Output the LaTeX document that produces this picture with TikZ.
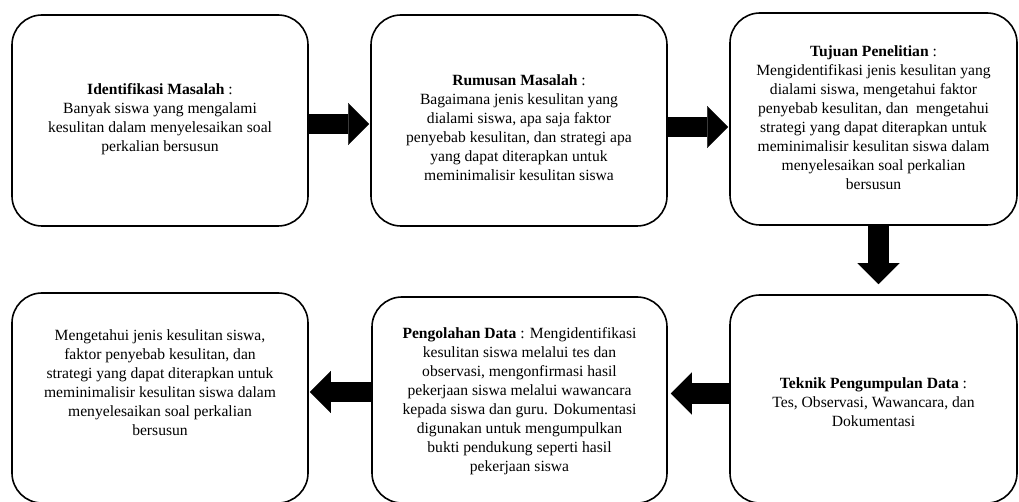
\documentclass[tikz,border=0pt]{standalone}
\usepackage{fontspec}
\setmainfont{Liberation Serif}
\usepackage{tikz}
\usetikzlibrary{arrows.meta,positioning,calc}
\newcommand{\stagefont}{\fontsize{15.6pt}{19pt}\selectfont}
\tikzset{
  stagebox/.style={rectangle, rounded corners=30pt, draw=black, fill=white, line width=1.6pt},
  stagetext/.style={align=center, inner sep=0pt, font=\stagefont},
  blockarrow/.style={-{Triangle[length=21pt, width=42pt, line width=0.1pt]}, draw=black, line width=20.5pt}
}
\begin{document}
\begin{tikzpicture}[x=1pt, y=-1pt]
 \useasboundingbox (0,0) rectangle (1019,502);
 \node[stagebox, minimum width=296pt, minimum height=211pt] (idm) at (160,120.5) {};
 \node[stagebox, minimum width=296pt, minimum height=211pt] (rum) at (519,120.5) {};
 \node[stagebox, minimum width=287pt, minimum height=212pt] (tuj) at (873.5,119) {};
 \node[stagebox, minimum width=296pt, minimum height=210pt] (has) at (160,398) {};
 \node[stagebox, minimum width=295pt, minimum height=206pt] (pen) at (519.5,400) {};
 \node[stagebox, minimum width=287pt, minimum height=208pt] (tek) at (873.5,399) {};

 \node[stagetext] (idmtext) at (160,119) {\textbf{Identifikasi Masalah} :\\
  Banyak siswa yang mengalami\\ kesulitan dalam menyelesaikan soal\\ perkalian bersusun};
 \node[stagetext] (rumtext) at (519,128) {\textbf{Rumusan Masalah} :\\
  Bagaimana jenis kesulitan yang\\ dialami siswa, apa saja faktor\\
  penyebab kesulitan, dan strategi apa\\ yang dapat diterapkan untuk\\
  meminimalisir kesulitan siswa};
 \node[stagetext] (tujtext) at (873.5,118) {\textbf{Tujuan Penelitian} :\\
  Mengidentifikasi jenis kesulitan yang\\ dialami siswa, mengetahui faktor\\
  penyebab kesulitan, dan~ mengetahui\\ strategi yang dapat diterapkan untuk\\
  meminimalisir kesulitan siswa dalam\\ menyelesaikan soal perkalian\\ bersusun};
 \node[stagetext] (tektext) at (873.5,402) {\textbf{Teknik Pengumpulan Data} :\\
  Tes, Observasi, Wawancara, dan\\ Dokumentasi};
 \node[stagetext] (pentext) at (519.5,401) {\textbf{Pengolahan Data} : Mengidentifikasi\\
  kesulitan siswa melalui tes dan\\ observasi, mengonfirmasi hasil\\
  pekerjaan siswa melalui wawancara\\ kepada siswa dan guru. Dokumentasi\\
  digunakan untuk mengumpulkan\\ bukti pendukung seperti hasil\\ pekerjaan siswa};
 \node[stagetext] (hastext) at (160,383) {Mengetahui jenis kesulitan siswa,\\
  faktor penyebab kesulitan, dan\\ strategi yang dapat diterapkan untuk\\
  meminimalisir kesulitan siswa dalam\\ menyelesaikan soal perkalian\\ bersusun};

 \draw[blockarrow, shorten >=1pt] ($(idm.east)+(0,3.5)$) -- ($(rum.west)+(0,3.5)$);
 \draw[blockarrow, shorten >=1pt] ($(rum.east)+(0,6.5)$) -- ($(tuj.west)+(0,8)$);
 \draw[blockarrow, shorten >=10pt] ($(tuj.south)+(5,0)$) -- ($(tek.north)+(5,0)$);
 \draw[blockarrow, shorten >=3pt] ($(tek.west)+(0,-5.5)$) -- ($(pen.east)+(0,-6.5)$);
 \draw[blockarrow, shorten >=1pt] ($(pen.west)+(0,-8)$) -- ($(has.east)+(0,-6)$);
\end{tikzpicture}
\end{document}
